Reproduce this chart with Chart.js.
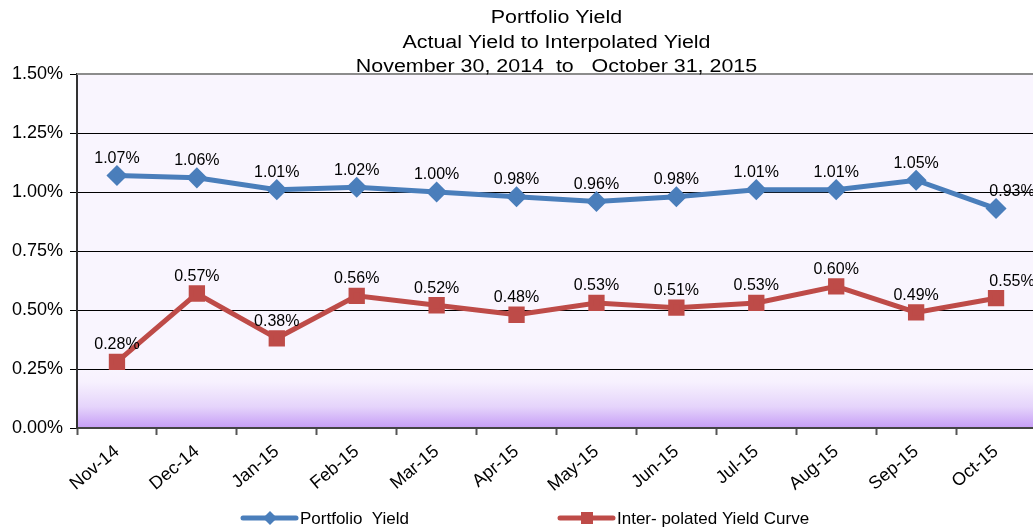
<!DOCTYPE html>
<html>
<head>
<meta charset="utf-8">
<title>Portfolio Yield</title>
<script src="https://cdn.jsdelivr.net/npm/chart.js@4/dist/chart.umd.min.js"></script>
<style>
  html, body { margin: 0; padding: 0; background: #fff; overflow: hidden; }
  #chart { display: block; }
</style>
</head>
<body>
<canvas id="chart" width="1049" height="529"></canvas>
<script>
'use strict';

/* ── data ── */
const months = ['Nov-14', 'Dec-14', 'Jan-15', 'Feb-15', 'Mar-15', 'Apr-15',
                'May-15', 'Jun-15', 'Jul-15', 'Aug-15', 'Sep-15', 'Oct-15'];
const portfolioYield = [1.07, 1.06, 1.01, 1.02, 1.00, 0.98, 0.96, 0.98, 1.01, 1.01, 1.05, 0.93];
const interpolatedYield = [0.28, 0.57, 0.38, 0.56, 0.52, 0.48, 0.53, 0.51, 0.53, 0.60, 0.49, 0.55];
const yTicks = [0, 0.25, 0.5, 0.75, 1.0, 1.25, 1.5];
const titleLines = ['Portfolio Yield', 'Actual Yield to Interpolated Yield', 'November 30, 2014  to   October 31, 2015'];

const BLUE = '#4A7EBB';
const RED  = '#BE4B48';
const FONT = '"Liberation Sans", Arial, sans-serif';

/* plot background: pale lavender, purple fade near the floor */
const plotBg = {
  id: 'plotBg',
  beforeDraw(chart) {
    const { ctx, chartArea: a } = chart;
    const g = ctx.createLinearGradient(0, a.top, 0, a.bottom);
    g.addColorStop(0, '#F9F5FE');
    g.addColorStop(0.83, '#F9F5FE');
    g.addColorStop(0.87, '#F7F1FE');
    g.addColorStop(0.94, '#E5D4FB');
    g.addColorStop(1, '#C59DF6');
    ctx.save();
    ctx.fillStyle = g;
    ctx.fillRect(a.left, a.top, a.right - a.left, a.bottom - a.top);
    ctx.restore();
  },
  afterDraw(chart) {
    const { ctx, chartArea: a } = chart;
    ctx.save();
    ctx.strokeStyle = '#8C8C8C';
    ctx.lineWidth = 2;
    ctx.beginPath(); ctx.moveTo(a.left, a.top); ctx.lineTo(a.right, a.top); ctx.stroke();
    ctx.restore();
  }
};

/* point value labels */
const valueLabels = {
  id: 'valueLabels',
  afterDatasetsDraw(chart) {
    const { ctx } = chart;
    ctx.save();
    ctx.font = '16px ' + FONT;
    ctx.fillStyle = '#000';
    ctx.textAlign = 'center';
    ctx.textBaseline = 'bottom';
    chart.data.datasets.forEach((ds, di) => {
      chart.getDatasetMeta(di).data.forEach((pt, i) => {
        let x = pt.x;
        if (i === ds.data.length - 1) x += 16;
        ctx.fillText(ds.data[i].toFixed(2) + '%', x, pt.y - 9);
      });
    });
    ctx.restore();
  }
};

/* title + legend drawn by hand (the original is stretched a little wide) */
const titleLegend = {
  id: 'titleLegend',
  afterDraw(chart) {
    const { ctx, chartArea: a } = chart;
    const cx = (a.left + a.right) / 2;
    const sx = 1.19;
    ctx.save();
    ctx.fillStyle = '#000';
    ctx.textAlign = 'center';
    ctx.textBaseline = 'alphabetic';
    ctx.font = '18px ' + FONT;
    titleLines.forEach((t, i) => {
      ctx.save();
      ctx.translate(cx, 23 + i * 24.5);
      ctx.scale(sx, 1);
      ctx.fillText(t, 0, 0);
      ctx.restore();
    });

    const items = [
      { x: 243, label: 'Portfolio  Yield', color: BLUE, shape: 'diamond' },
      { x: 560, label: 'Inter- polated Yield Curve', color: RED, shape: 'square' }
    ];
    const y = 518;
    items.forEach(it => {
      ctx.strokeStyle = it.color;
      ctx.lineWidth = 5;
      ctx.lineCap = 'round';
      ctx.beginPath(); ctx.moveTo(it.x, y); ctx.lineTo(it.x + 53, y); ctx.stroke();
      ctx.fillStyle = it.color;
      const mx = it.x + 27;
      if (it.shape === 'diamond') {
        ctx.beginPath();
        ctx.moveTo(mx, y - 7); ctx.lineTo(mx + 7, y); ctx.lineTo(mx, y + 7); ctx.lineTo(mx - 7, y);
        ctx.closePath(); ctx.fill();
      } else {
        ctx.fillRect(mx - 6, y - 6, 12, 12);
      }
      ctx.fillStyle = '#000';
      ctx.textAlign = 'left';
      ctx.textBaseline = 'middle';
      ctx.font = '17px ' + FONT;
      ctx.fillText(it.label, it.x + 57, y + 1);
    });
    ctx.restore();
  }
};

new Chart(document.getElementById('chart'), {
  type: 'line',
  data: {
    labels: months,
    datasets: [
      {
        label: 'Portfolio  Yield',
        data: portfolioYield,
        borderColor: BLUE,
        backgroundColor: BLUE,
        borderWidth: 5,
        pointStyle: 'rectRot',
        pointRadius: 7,
        pointHoverRadius: 7,
        tension: 0
      },
      {
        label: 'Inter- polated Yield Curve',
        data: interpolatedYield,
        borderColor: RED,
        backgroundColor: RED,
        borderWidth: 5,
        pointStyle: 'rect',
        pointRadius: 8,
        pointHoverRadius: 8,
        tension: 0
      }
    ]
  },
  options: {
    responsive: false,
    animation: false,
    layout: { padding: { top: 74, right: 3, left: 0, bottom: 0 } },
    plugins: {
      legend: { display: false },
      title: { display: false },
      tooltip: { enabled: false }
    },
    scales: {
      x: {
        offset: true,
        grid: { offset: true, drawOnChartArea: false, color: '#555', tickLength: 7, tickWidth: 2 },
        border: { color: '#444', width: 2 },
        ticks: {
          color: '#000',
          font: { family: FONT, size: 18 },
          minRotation: 40,
          maxRotation: 40,
          padding: 6
        },
        afterFit(scale) { scale.height = 101; }
      },
      y: {
        min: 0,
        max: 1.5,
        afterBuildTicks(scale) { scale.ticks = yTicks.map(v => ({ value: v })); },
        grid: { color: '#000', lineWidth: 1, tickLength: 7 },
        border: { color: '#333', width: 2 },
        ticks: {
          color: '#000',
          font: { family: FONT, size: 18 },
          padding: 7,
          callback: v => v.toFixed(2) + '%'
        },
        afterFit(scale) { scale.width = 77; }
      }
    }
  },
  plugins: [plotBg, valueLabels, titleLegend]
});
</script>
</body>
</html>
